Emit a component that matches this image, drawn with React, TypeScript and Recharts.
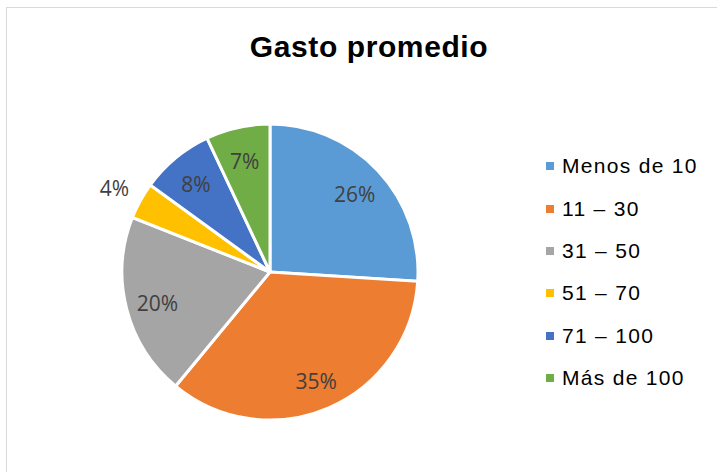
import React from "react";
import { PieChart, Pie, Cell } from "recharts";

const categories = ["Menos de 10", "11 – 30", "31 – 50", "51 – 70", "71 – 100", "Más de 100"];
const values = [26, 35, 20, 4, 8, 7];
const colors = ["#5B9BD5", "#ED7D31", "#A5A5A5", "#FFC000", "#4472C4", "#70AD47"];
const title = "Gasto promedio";

const data = categories.map((name, i) => ({ name, value: values[i] }));

const RAD = Math.PI / 180;

const renderLabel = (props: any) => {
  const { cx, cy, midAngle, outerRadius, index, value } = props;
  const r = index === 3 ? outerRadius * 1.2 : outerRadius * 0.785;
  const x = cx + r * Math.cos(-midAngle * RAD);
  const y = cy + r * Math.sin(-midAngle * RAD);
  return (
    <text
      x={x}
      y={y + 2}
      fill="#404040"
      textAnchor="middle"
      dominantBaseline="central"
      style={{ fontFamily: "'Open Sans', sans-serif", fontSize: 21 }}
    >
      {value}%
    </text>
  );
};

export default function App() {
  return (
    <div style={{ position: "absolute", left: 0, top: 0, width: 717, height: 472, background: "#fff", overflow: "hidden" }}>
      <div
        style={{
          position: "absolute",
          left: 6,
          top: 7,
          width: 760,
          height: 520,
          border: "1px solid #d9d9d9",
        }}
      />
      <div
        style={{
          position: "absolute",
          left: 0,
          width: 738,
          textAlign: "center",
          top: 30,
          fontFamily: "'Liberation Sans', Arial, sans-serif",
          fontWeight: "bold",
          fontSize: 30,
          letterSpacing: 0.6,
          color: "#000",
        }}
      >
        {title}
      </div>
      <div style={{ position: "absolute", left: 0, top: 0 }}>
        <PieChart width={717} height={472} margin={{ top: 0, right: 0, bottom: 0, left: 0 }}>
          <Pie
            data={data}
            dataKey="value"
            nameKey="name"
            cx={270}
            cy={272}
            outerRadius={148}
            startAngle={90}
            endAngle={-270}
            stroke="#fff"
            strokeWidth={3}
            label={renderLabel}
            labelLine={false}
            isAnimationActive={false}
          >
            {data.map((d, i) => (
              <Cell key={d.name} fill={colors[i]} />
            ))}
          </Pie>
        </PieChart>
      </div>
      <div
        style={{
          position: "absolute",
          left: 546,
          top: 145,
          width: 170,
          fontFamily: "'Liberation Sans', Arial, sans-serif",
        }}
      >
        {data.map((d, i) => (
          <div key={d.name} style={{ display: "flex", alignItems: "center", height: 42.4 }}>
            <div style={{ width: 8, height: 8, background: colors[i], marginRight: 8 }} />
            <span style={{ fontSize: 21, letterSpacing: 1.3, color: "#000" }}>{d.name}</span>
          </div>
        ))}
      </div>
    </div>
  );
}
